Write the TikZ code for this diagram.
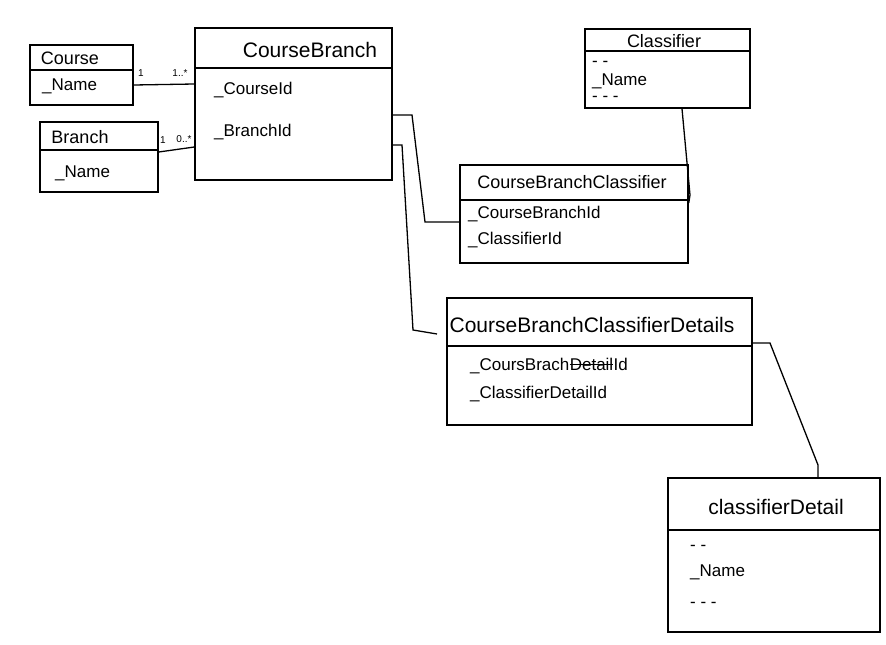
\documentclass[tikz,border=0pt]{standalone}
\usepackage{fontspec}
\setmainfont{Liberation Sans}
\begin{document}
\begin{tikzpicture}[x=1pt,y=-1pt,
  box/.style={draw=black, line width=1.5pt, rectangle, inner sep=0pt},
  divline/.style={draw=black, line width=1.4pt},
  conn/.style={draw=black, line width=1.3pt},
  ttl/.style={font=\fontsize{18}{20}\selectfont, inner sep=0pt},
  bigttl/.style={font=\fontsize{21}{23}\selectfont, inner sep=0pt},
  fld/.style={font=\fontsize{17}{19}\selectfont, inner sep=0pt, anchor=west},
  mult/.style={font=\fontsize{10}{12}\selectfont, inner sep=0pt}]
\useasboundingbox[fill=white] (0,0) rectangle (886,645);
% boxes
\node[box, minimum width=103pt, minimum height=60pt] (course) at (81.5,75) {};
\node[box, minimum width=118pt, minimum height=70pt] (branch) at (99,157) {};
\node[box, minimum width=197pt, minimum height=152pt] (cb) at (293.5,104) {};
\node[box, minimum width=165pt, minimum height=79pt] (cls) at (667.5,68.5) {};
\node[box, minimum width=228pt, minimum height=98pt] (cbc) at (574,214) {};
\node[box, minimum width=305pt, minimum height=127pt] (cbcd) at (599.5,361.5) {};
\node[box, minimum width=212pt, minimum height=154pt] (cd) at (774,555) {};
% dividers
\draw[divline] (course.west |- 0,70) -- (course.east |- 0,70);
\draw[divline] (branch.west |- 0,150) -- (branch.east |- 0,150);
\draw[divline] (cb.west |- 0,68) -- (cb.east |- 0,68);
\draw[divline] (cls.west |- 0,51) -- (cls.east |- 0,51);
\draw[divline] (cbc.west |- 0,200) -- (cbc.east |- 0,200);
\draw[divline] (cbcd.west |- 0,346) -- (cbcd.east |- 0,346);
\draw[divline] (cd.west |- 0,530) -- (cd.east |- 0,530);
% titles
\node[ttl] (tcourse) at (70,58) {Course};
\node[ttl] (tbranch) at (80,137) {Branch};
\node[bigttl] (tcb) at (310,50) {CourseBranch};
\node[ttl] (tcls) at (664,41) {Classifier};
\node[ttl] (tcbc) at (572,182) {CourseBranchClassifier};
\node[bigttl] (tcbcd) at (592,325) {CourseBranchClassifierDetails};
\node[bigttl] (tcd) at (776,507) {classifierDetail};
% fields
\node[fld] (f1) at (42,86) {\_Name};
\node[fld] (f2) at (55,173) {\_Name};
\node[fld] (f3) at (214,90) {\_CourseId};
\node[fld] (f4) at (214,132) {\_BranchId};
\node[fld] (f5) at (592,64) {- -};
\node[fld] (f6) at (592,81) {\_Name};
\node[fld] (f7) at (592,99) {- - -};
\node[fld] (f8) at (468,214) {\_CourseBranchId};
\node[fld] (f9) at (468,240) {\_ClassifierId};
\node[fld] (f10a) at (470,366) {\_CoursBrach};
\node[fld, anchor=base west] (f10b) at (f10a.base east) {Detail};
\node[fld, anchor=base west] (f10c) at (f10b.base east) {Id};
\draw[line width=1.6pt] (f10b.west) -- (f10b.east);
\node[fld] (f11) at (470,394) {\_ClassifierDetailId};
\node[fld] (f12) at (690,548) {- -};
\node[fld] (f13) at (690,572) {\_Name};
\node[fld] (f14) at (690,605) {- - -};
% connectors
\draw[conn] (course.east |- 0,85) -- (cb.west |- 0,84);
\draw[conn] (branch.east |- 0,152) -- (cb.west |- 0,147);
\node[mult] (m1) at (141,73) {1};
\node[mult] (m2) at (180,73) {1..*};
\node[mult] (m3) at (163,140) {1};
\node[mult] (m4) at (184,139) {0..*};
\coordinate (a1) at (412,115);
\coordinate (a2) at (425,222);
\draw[conn] (cb.east |- 0,115) -- (a1) -- (a2) -- (cbc.west |- 0,222);
\coordinate (b1) at (402,145);
\coordinate (b2) at (413,330);
\coordinate (b3) at (437,334);
\draw[conn] (cb.east |- 0,145) -- (b1) -- (b2) -- (b3);
\coordinate (c1) at (690,195);
\draw[conn] (cls.south -| 682,0) -- (c1) -- (cbc.east |- 0,203);
\coordinate (d1) at (770,343);
\coordinate (d2) at (818,465);
\draw[conn] (cbcd.east |- 0,343) -- (d1) -- (d2) -- (cd.north -| 818,0);
\end{tikzpicture}
\end{document}
